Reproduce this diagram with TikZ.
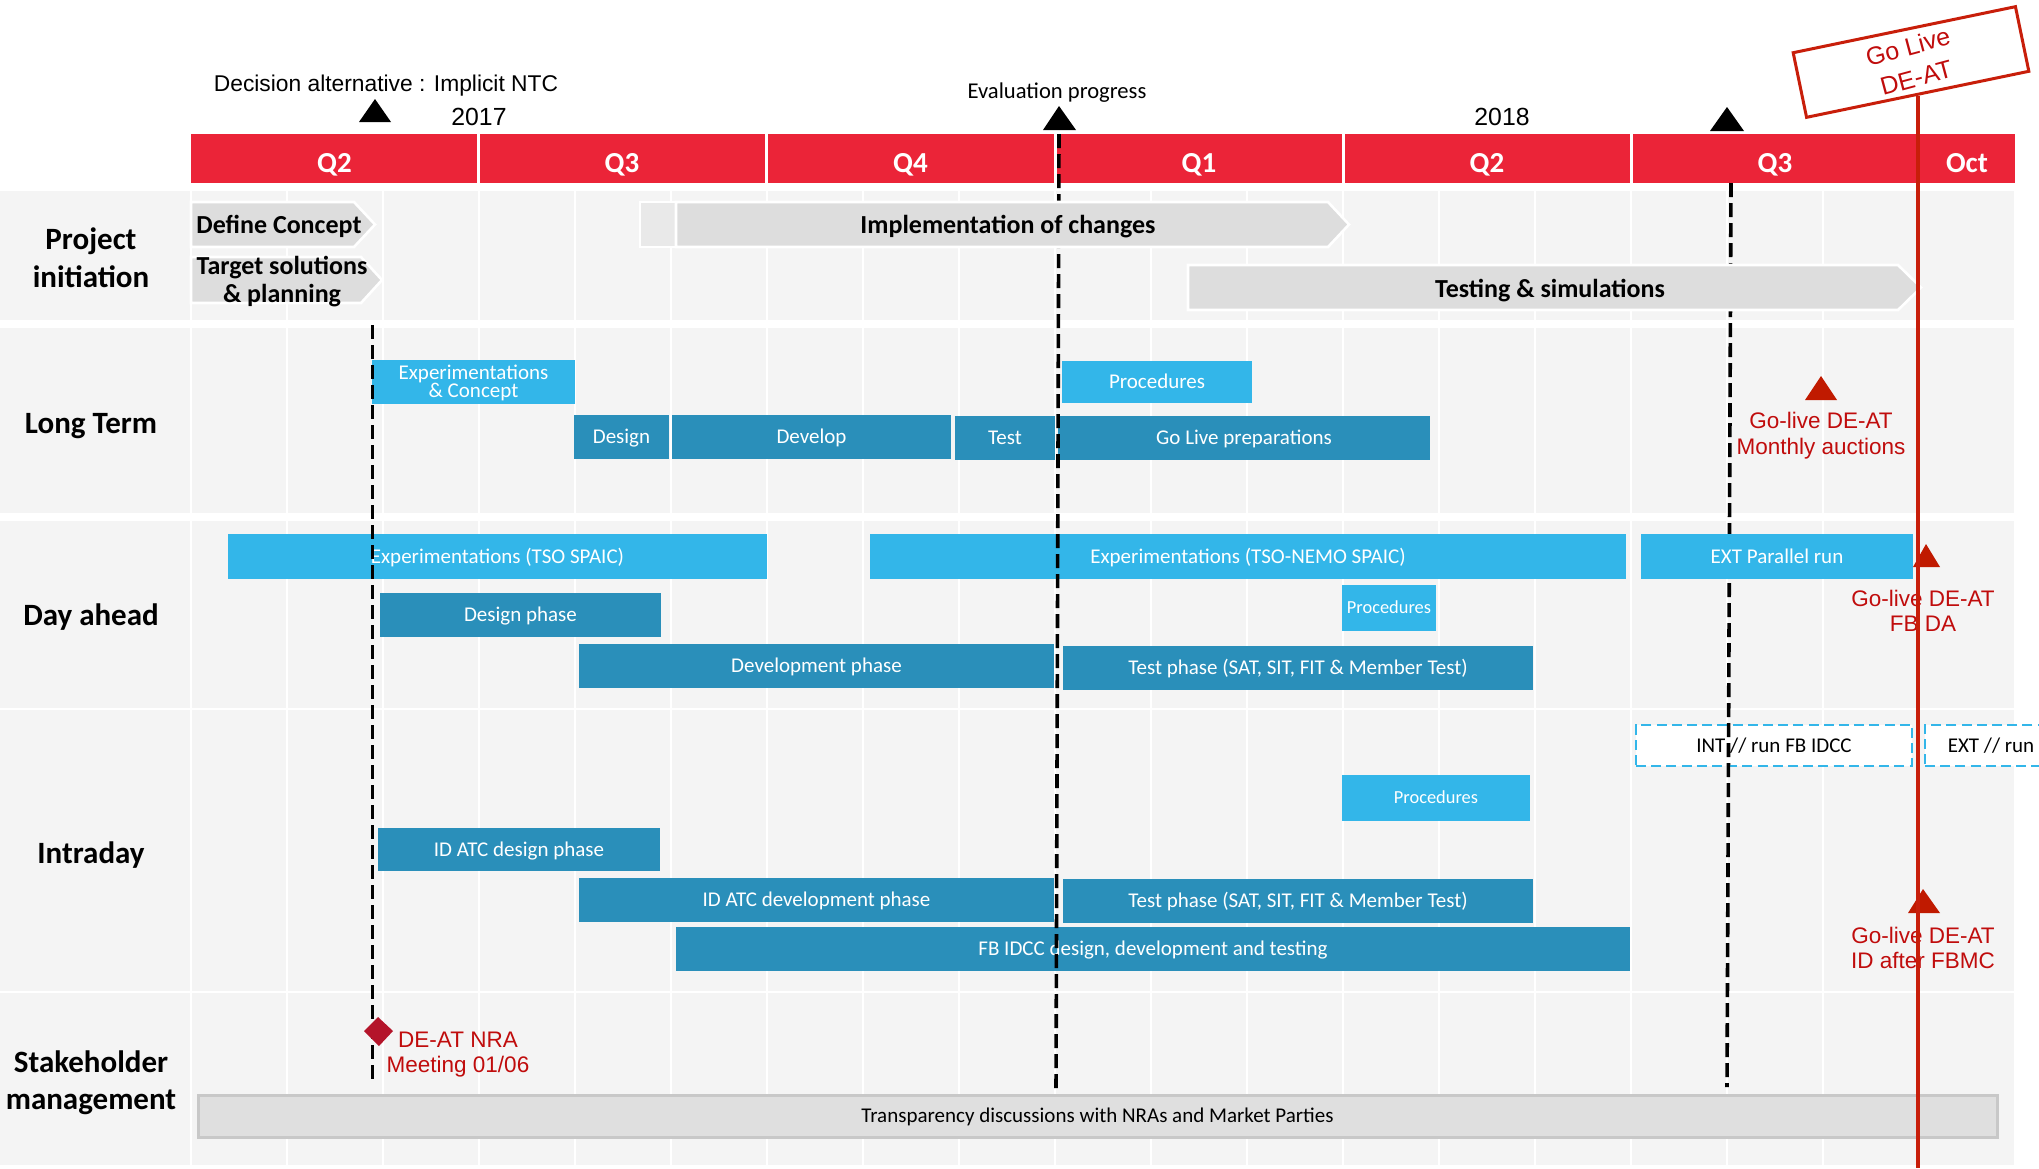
\documentclass[tikz,border=0pt]{standalone}
\usepackage{fontspec}
\setmainfont{Carlito}
\newfontfamily\arialf{Liberation Sans}
\definecolor{hdrred}{RGB}{235,36,56}
\definecolor{bandgray}{RGB}{244,244,244}
\definecolor{ltblue}{RGB}{51,182,233}
\definecolor{dkblue}{RGB}{42,143,186}
\definecolor{chevgray}{RGB}{221,221,221}
\definecolor{chevlight}{RGB}{233,233,233}
\definecolor{redln}{RGB}{200,30,10}
\definecolor{redtxt}{RGB}{192,12,12}
\definecolor{redtri}{RGB}{192,26,0}
\definecolor{diamondred}{RGB}{180,20,42}
\definecolor{transfill}{RGB}{223,223,223}
\definecolor{transdraw}{RGB}{200,200,200}
\tikzset{
  band/.style={fill=bandgray},
  gridln/.style={white, line width=1.2pt},
  task/.style={inner sep=0pt, outer sep=0pt, text=white, align=center, font=\fontsize{10.5pt}{9pt}\selectfont, text height=6.7pt, text depth=0pt},
  ltask/.style={task, fill=ltblue},
  dtask/.style={task, fill=dkblue},
  smalltask/.style={task, fill=ltblue, font=\fontsize{9.2pt}{9pt}\selectfont, text height=5.9pt},
  dashtask/.style={task, fill=white, draw=ltblue, line width=1.3pt, dash pattern=on 5pt off 2.6pt, text=black},
  chev/.style={fill=chevgray, draw=white, line width=1.3pt},
  chevl/.style={fill=chevlight, draw=white, line width=1.3pt},
  chevtext/.style={font=\bfseries\fontsize{13pt}{14pt}\selectfont, align=center, inner sep=0pt, text height=8.3pt, text depth=0pt},
  rowlabel/.style={font=\bfseries\fontsize{15.5pt}{19pt}\selectfont, align=center, inner sep=0pt, text height=9.9pt, text depth=0pt},
  qlabel/.style={font=\bfseries\fontsize{14.5pt}{16pt}\selectfont, text=white, inner sep=0pt, text height=9.3pt, text depth=0pt},
  redlabel/.style={font=\arialf\fontsize{11.25pt}{12.7pt}\selectfont, text=redtxt, align=center, inner sep=0pt, text height=20.75pt, text depth=0pt},
  toplabel/.style={font=\arialf\fontsize{11.4pt}{13pt}\selectfont, inner sep=0pt, text height=8.16pt, text depth=0pt},
  yearlabel/.style={font=\arialf\fontsize{12.4pt}{14pt}\selectfont, inner sep=0pt, text height=8.9pt, text depth=0pt},
  milestone/.style={black, line width=1.8pt, dash pattern=on 7pt off 3pt},
  redline/.style={redln, line width=1.7pt},
  transbar/.style={task, fill=transfill, draw=transdraw, line width=1.5pt, text=black},
}
\newcommand\mytask[7]{%
  \pgfmathsetmacro\tbw{(#5-#3)*0.5}%
  \pgfmathsetmacro\tbh{(#6-#4)*0.5}%
  \node[#2, minimum width=\tbw pt, minimum height=\tbh pt] (#1) at ({(#3+#5)/2},{(#4+#6)/2}) {#7};}
\begin{document}
\begin{tikzpicture}[x=0.5pt,y=-0.5pt]
\useasboundingbox (0,0) rectangle (2039,1168);
\clip (0,0) rectangle (2039,1168);
% row bands
\fill[band] (0,191) rectangle (2015,320);
\fill[band] (0,328) rectangle (2015,513);
\fill[band] (0,521) rectangle (2015,708);
\fill[band] (0,710) rectangle (2015,991);
\fill[band] (0,993) rectangle (2015,1165);
\foreach \k in {0,...,19} \draw[gridln] ({191+96*\k},191) -- ({191+96*\k},1165);
% header
\fill[hdrred] (191,134) rectangle (2015,183);
\foreach \x in {478,766,1055,1343,1631} \draw[white, line width=1.5pt] (\x,134) -- (\x,183);
\node[qlabel] (q2a) at (334.5,163) {Q2};
\node[qlabel] (q3a) at (622,163) {Q3};
\node[qlabel] (q4a) at (910.5,163) {Q4};
\node[qlabel] (q1b) at (1199,163) {Q1};
\node[qlabel] (q2b) at (1487,163) {Q2};
\node[qlabel] (q3b) at (1775,163) {Q3};
\node[qlabel] (octb) at (1967,163) {Oct};
% top texts
\node[toplabel] (decision) at (386,83) {Decision alternative : Implicit NTC};
\node[yearlabel] (y2017) at (479,117) {2017};
\node[yearlabel] (y2018) at (1502,117) {2018};
\node[font=\fontsize{11.3pt}{13pt}\selectfont, inner sep=0pt, text height=7.2pt, text depth=0pt] (evalp) at (1057,91.5) {Evaluation progress};
\fill[black] (359,122) -- (375,99) -- (391,122) -- cycle;
\fill[black] (1043,130) -- (1059,106) -- (1076,130) -- cycle;
\fill[black] (1710,131) -- (1727,107) -- (1744,131) -- cycle;
% Long term
\mytask{expc}{ltask, text height=15.7pt}{372}{360}{575}{404}{Experimentations\\\& Concept}
\mytask{ltdesign}{dtask}{574}{415}{669}{459}{Design}
\mytask{ltdevelop}{dtask}{672}{415}{951}{459}{Develop}
\mytask{lttest}{dtask}{955}{416}{1055}{460}{Test}
\mytask{ltproc}{ltask}{1062}{361}{1252}{403}{Procedures}
\mytask{ltgolive}{dtask}{1058}{416}{1430}{460}{Go Live preparations}
% Day ahead
\mytask{daexp1}{ltask}{228}{534}{767}{579}{Experimentations (TSO SPAIC)}
\mytask{daexp2}{ltask}{870}{534}{1626}{579}{Experimentations (TSO-NEMO SPAIC)}
\mytask{dadesign}{dtask}{380}{593}{661}{637}{Design phase}
\mytask{daproc}{smalltask}{1342}{585}{1436}{631}{Procedures}
\mytask{dadev}{dtask}{579}{644}{1054}{688}{Development phase}
\mytask{datest}{dtask}{1063}{646}{1533}{690}{Test phase (SAT, SIT, FIT \& Member Test)}
% Intraday
\mytask{intrun}{dashtask}{1636}{725}{1912}{766}{INT // run FB IDCC}
\mytask{extrun}{dashtask}{1925}{725}{2057}{766}{EXT // run}
\mytask{idproc}{smalltask}{1342}{775}{1530}{821}{Procedures}
\mytask{iddesign}{dtask}{378}{828}{660}{871}{ID ATC design phase}
\mytask{iddev}{dtask}{579}{878}{1054}{922}{ID ATC development phase}
\mytask{idtest}{dtask}{1063}{879}{1533}{923}{Test phase (SAT, SIT, FIT \& Member Test)}
\mytask{fbidcc}{dtask}{676}{927}{1630}{971}{FB IDCC design, development and testing}
% Stakeholder
\mytask{transp}{transbar}{198}{1095}{1997}{1137}{Transparency discussions with NRAs and Market Parties}
% milestone dashed lines
\coordinate (m1t) at (372.5,325); \coordinate (m1b) at (372.5,1085);
\coordinate (m2t) at (1059,134); \coordinate (m2b) at (1056,1090);
\coordinate (m3t) at (1731,183); \coordinate (m3b) at (1727,1087);
\draw[milestone] (m1t) -- (m1b);
\draw[milestone] (m2t) -- (m2b);
\draw[milestone] (m3t) -- (m3b);
% chevrons
\path[chev] (191,202) -- (354,202) -- (375,224.5) -- (354,247) -- (191,247) -- cycle;
\node[chevtext] (defc) at (279,225) {Define Concept};
\path[chev] (191,257) -- (361,257) -- (382,280) -- (361,303) -- (191,303) -- cycle;
\node[chevtext, text height=22.3pt] (target) at (282,280) {Target solutions\\\& planning};
\path[chevl] (640,202) rectangle (682,247);
\path[chev] (676,202) -- (1328,202) -- (1349,224.5) -- (1328,247) -- (676,247) -- cycle;
\node[chevtext] (impl) at (1008,225) {Implementation of changes};
\path[chev] (1188,265) -- (1898,265) -- (1921,287.5) -- (1898,310) -- (1188,310) -- cycle;
\node[chevtext] (testing) at (1550,289) {Testing \& simulations};
\mytask{extpar}{ltask}{1641}{534}{1913}{579}{EXT Parallel run}
% row labels
\node[rowlabel, text height=28.9pt] (lblproj) at (91,258.5) {Project\\initiation};
\node[rowlabel] (lbllt) at (91,424) {Long Term};
\node[rowlabel] (lblda) at (91,616) {Day ahead};
\node[rowlabel] (lblid) at (91,854) {Intraday};
\node[rowlabel, font=\bfseries\fontsize{15.5pt}{18.5pt}\selectfont, text height=28.4pt] (lblsh) at (91,1081) {Stakeholder\\management};
% red markers and labels
\fill[redtri] (1805,400) -- (1821,376) -- (1837,400) -- cycle;
\node[redlabel] (golt) at (1821,433.5) {Go-live DE-AT\\Monthly auctions};
\fill[redtri] (1913,567) -- (1926,544) -- (1940,567) -- cycle;
\node[redlabel] (goda) at (1923,611) {Go-live DE-AT\\FB DA};
\fill[redtri] (1908,913) -- (1923,889) -- (1940,913) -- cycle;
\node[redlabel] (goid) at (1923,948) {Go-live DE-AT\\ID after FBMC};
\fill[diamondred] (364,1031) -- (378,1017) -- (393,1031) -- (379,1046) -- cycle;
\node[redlabel] (nra) at (458,1052) {DE-AT NRA\\Meeting 01/06};
% go live sign
\node[draw=redln, line width=1.5pt, fill=white, minimum width=113.5pt, minimum height=33pt, rotate=11.7, inner sep=0pt] (golivebox) at (1911,62) {};
\node[rotate=15, font=\arialf\fontsize{12.5pt}{16pt}\selectfont, text=redtxt, align=center, inner sep=0pt] (golivetext) at (1912,62) {Go Live\\DE-AT};
\coordinate (rlbot) at (1919,1168);
\draw[redline] (golivebox.south) -- (golivebox.south |- rlbot);
\end{tikzpicture}
\end{document}
